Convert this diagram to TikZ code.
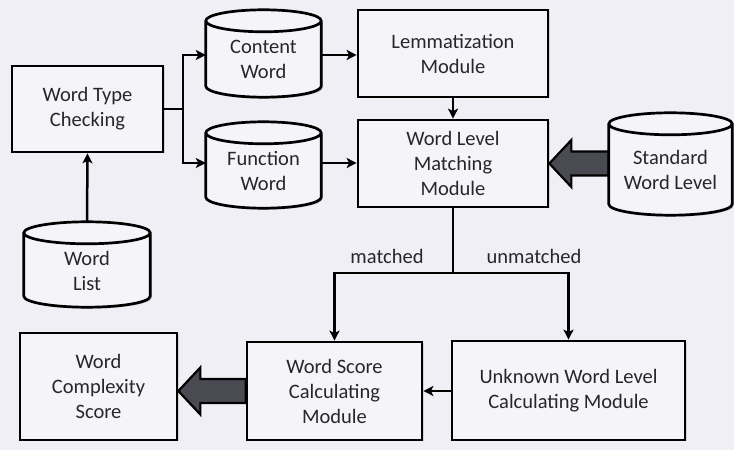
\documentclass[tikz,border=0pt]{standalone}
\usepackage{fontspec}
\setmainfont{Carlito}
\usetikzlibrary{arrows.meta,calc,shadows}

\definecolor{bgcol}{HTML}{F0EFF5}
\definecolor{boxcol}{HTML}{F5F4F9}
\definecolor{txtcol}{HTML}{26262B}
\definecolor{fatcol}{HTML}{4A4A52}

\tikzset{
  every node/.style={font=\fontsize{20.5}{25}\selectfont, text=txtcol, align=center},
  module/.style={draw=black, line width=2.7pt, fill=boxcol, inner sep=0pt,
    drop shadow={shadow xshift=1.5pt, shadow yshift=-1.5pt, opacity=0.25}},
  cylslot/.style={inner sep=0pt},
  cylline/.style={draw=black, line width=2.7pt, fill=boxcol},
  conn/.style={draw=black, line width=2.5pt},
  arr/.style={conn, -{Stealth[length=10pt, width=10pt, inset=2.5pt]}},
  fat/.style={draw=black, line width=2.2pt, fill=fatcol, line join=miter},
  lbl/.style={inner sep=1pt}
}

% database cylinder drawn inside the bounds of a named node
\newcommand{\cylshape}[1]{%
  \fill[black, opacity=0.2] let \p1=(#1.south west), \p2=(#1.north east), \n1={0.5*(\x2-\x1)} in
    (\x1+1.5pt,\y2-12.5pt) -- (\x1+1.5pt,\y1+9.5pt)
    arc[start angle=180, end angle=360, x radius=\n1, y radius=11pt]
    -- (\x2+1.5pt,\y2-12.5pt) -- cycle;
  \path[cylline] let \p1=(#1.south west), \p2=(#1.north east), \n1={0.5*(\x2-\x1)} in
    (\x1,\y2-11pt) -- (\x1,\y1+11pt)
    arc[start angle=180, end angle=360, x radius=\n1, y radius=11pt]
    -- (\x2,\y2-11pt)
    arc[start angle=0, end angle=180, x radius=\n1, y radius=11pt] -- cycle
    (\x1+\n1,\y2-11pt) ellipse[x radius=\n1, y radius=11pt];
}

% broad block arrow pointing left, tip at #1, shaft ending at the x of #2
\newcommand{\fatarrow}[2]{%
  \draw[fat] let \p1=(#1), \p2=(#2) in
    (\p1) -- (\x1+22pt,\y1+23.5pt) -- (\x1+22pt,\y1+12pt) -- (\x2,\y1+12pt)
    -- (\x2,\y1-12pt) -- (\x1+22pt,\y1-12pt) -- (\x1+22pt,\y1-23.5pt) -- cycle;
}

\begin{document}
\begin{tikzpicture}[x=1pt, y=1pt]
  \fill[bgcol] (0,0) rectangle (734,450);
  \useasboundingbox (0,0) rectangle (734,450);

  % rectangular modules
  \node[module, minimum width=151pt, minimum height=86pt] (wtc) at (87.5,341) {Word Type\\Checking};
  \node[module, minimum width=190pt, minimum height=87pt] (lem) at (453,396.5) {Lemmatization\\Module};
  \node[module, minimum width=190pt, minimum height=87pt] (wlm) at (453,286.5) {Word Level\\Matching\\Module};
  \node[module, minimum width=157pt, minimum height=107pt] (wcs) at (98.5,63.5) {Word\\Complexity\\Score};
  \node[module, minimum width=175pt, minimum height=98pt] (wsc) at (334.5,59) {Word Score\\Calculating\\Module};
  \node[module, minimum width=233pt, minimum height=99pt] (uwl) at (568.5,59.5) {Unknown Word Level\\Calculating Module};

  % slots for the database cylinders
  \node[cylslot, minimum width=126pt, minimum height=85pt] (wl) at (87,185.5) {};
  \node[cylslot, minimum width=115pt, minimum height=87pt] (cw) at (263.5,396.5) {};
  \node[cylslot, minimum width=115pt, minimum height=86pt] (fw) at (263.5,285) {};
  \node[cylslot, minimum width=123pt, minimum height=102pt] (swl) at (670.5,286) {};

  % block arrows (under the cylinder so its shaft end is hidden)
  \fatarrow{wlm.east}{swl.west}
  \fatarrow{wcs.east |- wsc.west}{wsc.west}

  \cylshape{wl}
  \cylshape{cw}
  \cylshape{fw}
  \cylshape{swl}

  \node (wlt) at ($(wl)+(0,-6)$) {Word\\List};
  \node (cwt) at ($(cw)+(0,-6)$) {Content\\Word};
  \node (fwt) at ($(fw)+(0,-6)$) {Function\\Word};
  \node (swlt) at ($(swl)+(0,-6)$) {Standard\\Word Level};

  % connectors
  \coordinate (split) at (183,341);
  \coordinate (jn) at (453,177);
  \draw[arr] (wl.north) -- (wtc.south);
  \draw[conn] (wtc.east) -- (split);
  \draw[arr] (split) |- ($(cw.west)+(0,-1.5)$);
  \draw[arr] (split) |- ($(fw.west)+(0,2)$);
  \draw[arr] ($(cw.east)+(0,-1.5)$) -- ($(lem.west)+(0,-1.5)$);
  \draw[arr] ($(fw.east)+(0,2)$) -- ($(wlm.west)+(0,0.5)$);
  \draw[arr] (lem.south) -- (wlm.north);
  \draw[conn] (wlm.south) -- (jn);
  \draw[arr] (jn) -| (wsc.north);
  \draw[arr] (jn) -| (uwl.north);
  \draw[arr] ($(uwl.west)+(0,-0.5)$) -- ($(wsc.east)+(0,0)$);

  \node[lbl] (matched) at (387,194) {matched};
  \node[lbl] (unmatched) at (534,194) {unmatched};
\end{tikzpicture}
\end{document}
